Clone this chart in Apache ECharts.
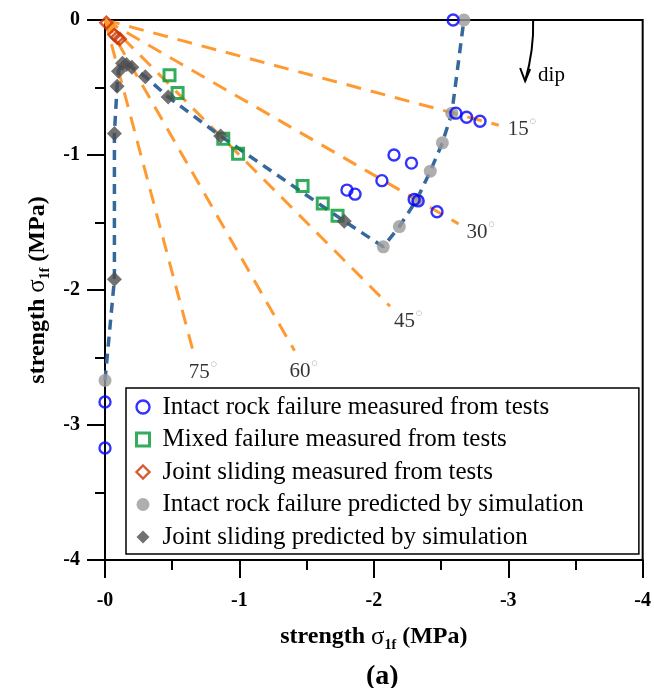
<!DOCTYPE html>
<html><head><meta charset="utf-8">
<script src="https://cdn.jsdelivr.net/npm/echarts@6/dist/echarts.min.js"></script>
<style>html,body{margin:0;padding:0;background:#fff}#c{width:654px;height:688px}</style>
</head><body><div id="c"></div>
<script>
// ---------- data ----------
const xTickLabels = ['-0', '-1', '-2', '-3', '-4'];
const yTickLabels = ['0', '-1', '-2', '-3', '-4'];
const legendNames = [
  'Intact rock failure measured from tests',
  'Mixed failure measured from tests',
  'Joint sliding measured from tests',
  'Intact rock failure predicted by simulation',
  'Joint sliding predicted by simulation'
];
const intactTests = [[-2.59,0],[-2.61,-0.69],[-2.69,-0.72],[-2.79,-0.75],[-2.15,-1.00],[-2.28,-1.06],
  [-2.06,-1.19],[-1.80,-1.26],[-1.86,-1.29],[-2.30,-1.33],[-2.33,-1.34],[-2.47,-1.42],[0,-2.83],[0,-3.17]];
const mixedTests = [[-0.48,-0.41],[-0.54,-0.54],[-0.88,-0.88],[-0.99,-0.99],[-1.47,-1.23],[-1.62,-1.36],[-1.73,-1.45]];
const jointTests = [[-0.01,-0.02],[-0.07,-0.11],[-0.09,-0.13],[-0.11,-0.14]];
// simulation points, listed in order along the failure envelope
const intactSim = [[0,-2.67],[-2.07,-1.68],[-2.19,-1.53],[-2.32,-1.33],[-2.42,-1.12],[-2.51,-0.91],[-2.58,-0.69],[-2.67,0]];
const jointSim = [[-0.07,-1.92],[-0.07,-0.84],[-0.09,-0.49],[-0.10,-0.38],[-0.13,-0.32],[-0.16,-0.33],
  [-0.20,-0.35],[-0.30,-0.42],[-0.47,-0.57],[-0.86,-0.86],[-1.78,-1.49]];
// dip-angle guide lines: origin to end point
const dipAngles = ['15', '30', '45', '60', '75'];
const dipOrigin = [0, 0];
const dipEnds = [[-2.93,-0.78],[-2.63,-1.51],[-2.12,-2.12],[-1.41,-2.45],[-0.66,-2.47]];
const dipArrowAnchor = [-3.185, 0];

// ---------- styles ----------
const FONT = 'Liberation Serif';
const orange = '#ff9a33';
const envBlue = '#36689e';
const clear = 'rgba(255,255,255,0)';
const labelOffsets = [[23,4],[22,9],[18,15],[9,21],[9,19]];
const legendBorder = [2.4, 3, 2.4, 0, 0];

const envelope = [intactSim[0]].concat(jointSim, intactSim.slice(1));

const series = [];
dipEnds.forEach((e, i) => {
  series.push({
    type: 'line', name: 'dip' + dipAngles[i], data: [dipOrigin, e], showSymbol: false, silent: true,
    lineStyle: { color: orange, width: 3, type: [15, 10] }, z: 1
  });
});
series.push({
  type: 'line', name: 'envelope', data: envelope, showSymbol: false, silent: true,
  lineStyle: { color: envBlue, width: 3.5, type: [10, 7] }, z: 2
});
series.push({
  type: 'scatter', name: 'dipLabels', silent: true, symbolSize: 0, z: 3,
  data: dipEnds.map((e, i) => ({ value: e, label: { offset: labelOffsets[i] } })),
  label: {
    show: true, position: 'inside',
    formatter: p => '{n|' + dipAngles[p.dataIndex] + '}{d|○}',
    rich: {
      n: { fontFamily: FONT, fontSize: 21, color: '#000', lineHeight: 24 },
      d: { fontFamily: 'DejaVu Sans', fontSize: 7, color: '#777', verticalAlign: 'top', lineHeight: 24, padding: [0,0,12,1] }
    }
  }
});
series.push({ type: 'scatter', name: legendNames[3], data: intactSim, symbol: 'circle', symbolSize: 13,
  itemStyle: { color: '#9a9a9a' }, z: 4 });
series.push({ type: 'scatter', name: legendNames[0], data: intactTests, symbol: 'circle', symbolSize: 11,
  itemStyle: { color: clear, borderColor: '#0000ff', borderWidth: 2.4 }, z: 5 });
series.push({ type: 'scatter', name: legendNames[1], data: mixedTests, symbol: 'rect', symbolSize: 11,
  itemStyle: { color: clear, borderColor: '#009933', borderWidth: 3 }, z: 5 });
series.push({ type: 'scatter', name: legendNames[4], data: jointSim, symbol: 'diamond', symbolSize: 15,
  itemStyle: { color: '#4d4d4d' }, z: 5 });
series.push({ type: 'scatter', name: legendNames[2], data: jointTests, symbol: 'diamond', symbolSize: 12,
  itemStyle: { color: clear, borderColor: '#cc3300', borderWidth: 2.4 }, z: 6 });

const nameRich = {
  b: { fontFamily: FONT, fontWeight: 'bold', fontSize: 24, color: '#000', lineHeight: 30 },
  s: { fontFamily: FONT, fontSize: 25, color: '#000', lineHeight: 30 },
  sub: { fontFamily: FONT, fontWeight: 'bold', fontSize: 14, color: '#000', lineHeight: 22, verticalAlign: 'bottom' }
};
const axisName = '{b|strength }{s|σ}{sub|1f}{b| (MPa)}';

const chart = echarts.init(document.getElementById('c'), null, { renderer: 'canvas' });
chart.setOption({
  animation: false,
  backgroundColor: '#fff',
  title: { text: '(a)', left: 361, top: 658,
    textStyle: { fontFamily: FONT, fontWeight: 'bold', fontSize: 28, color: '#000' } },
  grid: { left: 105, top: 20, width: 540, height: 540, show: true, borderColor: '#000', borderWidth: 2 },
  legend: {
    orient: 'vertical', left: 126, top: 388, padding: [5, 55, 3, 9],
    data: legendNames.map((n, i) => legendBorder[i] ? { name: n, itemStyle: { borderWidth: legendBorder[i] } } : { name: n }),
    itemWidth: 13, itemHeight: 13, itemGap: 4.5,
    borderColor: '#000', borderWidth: 1.5, backgroundColor: '#fff',
    textStyle: { fontFamily: FONT, fontSize: 25, color: '#000', lineHeight: 28, padding: [0, 0, 0, 8] },
    selectedMode: false
  },
  xAxis: {
    type: 'value', min: -4, max: 0, interval: 1, inverse: true,
    axisLine: { onZero: false, lineStyle: { color: '#000', width: 2 } },
    axisTick: { inside: false, length: 18, lineStyle: { color: '#000', width: 2 } },
    minorTick: { show: true, splitNumber: 2, length: 10, lineStyle: { color: '#000', width: 2 } },
    splitLine: { show: false },
    axisLabel: { margin: 31, fontFamily: FONT, fontWeight: 'bold', fontSize: 20, color: '#000',
      formatter: v => xTickLabels[Math.round(-v)] },
    name: axisName, nameLocation: 'middle', nameGap: 62,
    nameTextStyle: { rich: nameRich }
  },
  yAxis: {
    type: 'value', min: -4, max: 0, interval: 1,
    axisLine: { onZero: false, lineStyle: { color: '#000', width: 2 } },
    axisTick: { inside: false, length: 18, lineStyle: { color: '#000', width: 2 } },
    minorTick: { show: true, splitNumber: 2, length: 10, lineStyle: { color: '#000', width: 2 } },
    splitLine: { show: false },
    axisLabel: { margin: 25, fontFamily: FONT, fontWeight: 'bold', fontSize: 20, color: '#000',
      formatter: v => yTickLabels[Math.round(-v)] },
    name: axisName, nameLocation: 'middle', nameGap: 46,
    nameTextStyle: { rich: nameRich }
  },
  series: series
});

// dip arrow annotation anchored to the top border
const a = chart.convertToPixel({ gridIndex: 0 }, dipArrowAnchor);
chart.setOption({
  graphic: [
    { type: 'bezierCurve', silent: true, shape: { x1: a[0], y1: a[1], x2: a[0] - 8, y2: a[1] + 61, cpx1: a[0] + 1, cpy1: a[1] + 30 },
      style: { stroke: '#000', lineWidth: 2, fill: null }, z: 10 },
    { type: 'polyline', silent: true, shape: { points: [[a[0] - 13, a[1] + 48], [a[0] - 8, a[1] + 61], [a[0] - 3, a[1] + 49]] },
      style: { stroke: '#000', lineWidth: 2, fill: null }, z: 10 },
    { type: 'text', silent: true, x: a[0] + 5, y: a[1] + 55,
      style: { text: 'dip', fontFamily: FONT, fontSize: 21, fill: '#000', textVerticalAlign: 'middle' }, z: 10 }
  ]
});
</script></body></html>
